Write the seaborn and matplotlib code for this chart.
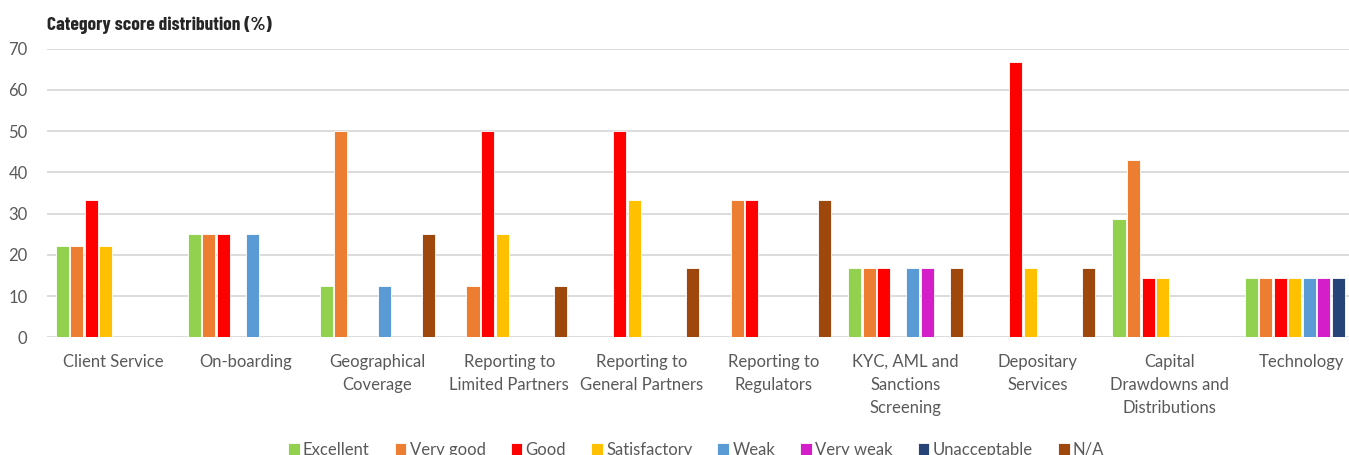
import matplotlib
matplotlib.use("Agg")
import matplotlib.pyplot as plt
import seaborn as sns
import pandas as pd

categories = ["Client Service", "On-boarding", "Geographical\nCoverage",
              "Reporting to\nLimited Partners", "Reporting to\nGeneral Partners",
              "Reporting to\nRegulators", "KYC, AML and\nSanctions\nScreening",
              "Depositary\nServices", "Capital\nDrawdowns and\nDistributions", "Technology"]
ratings = ["Excellent", "Very good", "Good", "Satisfactory", "Weak",
           "Very weak", "Unacceptable", "N/A"]

excellent    = [22.2, 25.0, 12.5, 0.0, 0.0, 0.0, 16.7, 0.0, 28.6, 14.3]
very_good    = [22.2, 25.0, 50.0, 12.5, 0.0, 33.3, 16.7, 0.0, 42.9, 14.3]
good         = [33.3, 25.0, 0.0, 50.0, 50.0, 33.3, 16.7, 66.7, 14.3, 14.3]
satisfactory = [22.2, 0.0, 0.0, 25.0, 33.3, 0.0, 0.0, 16.7, 14.3, 14.3]
weak         = [0.0, 25.0, 12.5, 0.0, 0.0, 0.0, 16.7, 0.0, 0.0, 14.3]
very_weak    = [0.0, 0.0, 0.0, 0.0, 0.0, 0.0, 16.7, 0.0, 0.0, 14.3]
unacceptable = [0.0, 0.0, 0.0, 0.0, 0.0, 0.0, 0.0, 0.0, 0.0, 14.3]
na           = [0.0, 0.0, 25.0, 12.5, 16.7, 33.3, 16.7, 16.7, 0.0, 0.0]

colors = ["#92D050", "#ED7D31", "#FF0000", "#FFC000", "#5B9BD5",
          "#D41ECA", "#264478", "#9E480E"]

series = [excellent, very_good, good, satisfactory, weak, very_weak, unacceptable, na]
rows = []
for r, vals in zip(ratings, series):
    for c, v in zip(categories, vals):
        rows.append({"category": c, "rating": r, "value": v})
df = pd.DataFrame(rows)

sns.set_style("white")
plt.rcParams["font.family"] = ["Lato", "DejaVu Sans"]

W, H = 1349, 455
fig = plt.figure(figsize=(W / 100, H / 100), dpi=100)
ax_left, ax_w = 47, 1321
ax_top, ax_bot = 48.7, 337.3
ax = fig.add_axes([ax_left / W, (H - ax_bot) / H, ax_w / W, (ax_bot - ax_top) / H])

sns.barplot(data=df, x="category", y="value", hue="rating", order=categories,
            hue_order=ratings, palette=colors, saturation=1, width=0.88, gap=0.1,
            edgecolor="white", linewidth=0.6, ax=ax, legend=True)

ax.set_xlim(-0.5, 9.5)
ax.set_ylim(0, 70)
ax.set_yticks(range(0, 71, 10))
ax.yaxis.grid(True, color="#D9D9D9", linewidth=1.3)
ax.set_axisbelow(True)
for s in ax.spines.values():
    s.set_visible(False)
ax.set_xlabel("")
ax.set_ylabel("")
ax.tick_params(axis="y", length=0, pad=14, labelsize=12, labelcolor="#595959")
ax.tick_params(axis="x", length=0, pad=12, labelsize=12, labelcolor="#595959")
for t in ax.get_xticklabels():
    t.set_linespacing(1.55)
    t.set_verticalalignment("top")

handles, labels = ax.get_legend_handles_labels()
ax.get_legend().remove()
fig.legend(handles, labels, loc="center", bbox_to_anchor=(0.516, 0.012), ncol=8,
           frameon=False, fontsize=12, handlelength=0.7, handleheight=0.7,
           handletextpad=0.2, columnspacing=1.5, labelcolor="#595959")

fig.text(ax_left / W, 1 - 25 / H, "Category score distribution (%)",
         family=["Barlow Condensed", "DejaVu Sans"], fontweight="bold",
         fontsize=14, color="#262626", va="center", ha="left")

fig.savefig("out.png", dpi=100)
